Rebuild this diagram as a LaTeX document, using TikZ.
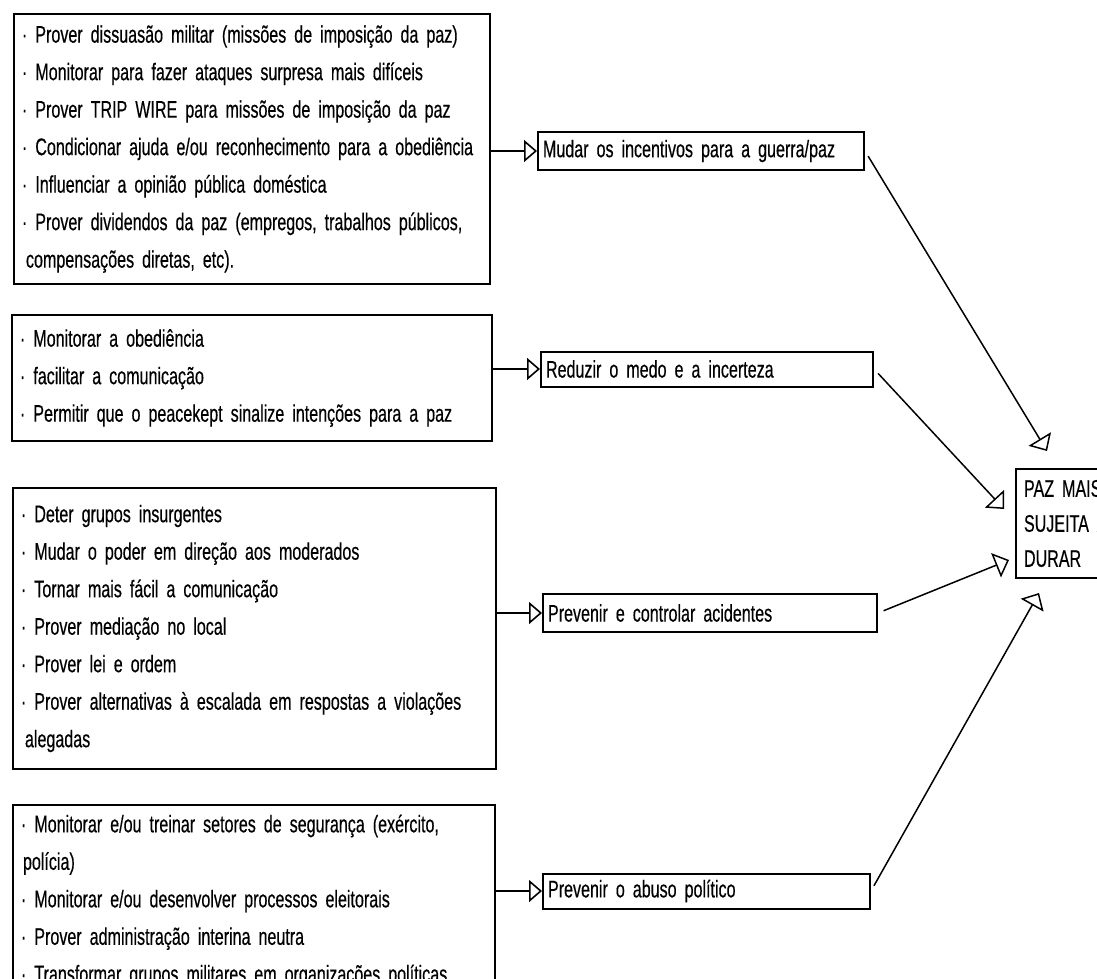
\documentclass[tikz,border=0pt]{standalone}
\usepackage{fontspec}
\setmainfont[FakeStretch=0.67, WordSpace=0.55, FakeBold=0.4]{Liberation Sans}
\usetikzlibrary{arrows.meta}
\hyphenpenalty=10000
\begin{document}
\begin{tikzpicture}[x = 0.5pt, y = -0.5pt,
		listbox/.style = {draw, line width = 1pt, align = left, inner xsep = 4pt, inner ysep = 0pt, anchor = north west, font = \fontsize{12}{18.75}\selectfont},
		goalbox/.style = {draw, line width = 1pt, align = left, inner xsep = 2.5pt, inner ysep = 0pt, anchor = west, font = \fontsize{12}{14}\selectfont},
		arr/.style = {line width = 0.8pt, -{Triangle[open, length = 6.5pt, width = 11pt]}},
		diag/.style = {line width = 0.75pt, shorten < = 3pt, -{Triangle[open, length = 7pt, width = 13pt]}}]
			\useasboundingbox (0,0) rectangle (1097,979);
			\clip (0,0) rectangle (1097,979);
			\node[listbox, text width = 230pt, minimum height = 135pt] (incentlist) at (13,13) {%
				· Prover dissuasão militar (missões de imposição da paz)\\
				· Monitorar para fazer ataques surpresa mais difíceis\\
				· Prover TRIP WIRE para missões de imposição da paz\\
				· Condicionar ajuda e/ou reconhecimento para a obediência\\
				· Influenciar a opinião pública doméstica\\
				· Prover dividendos da paz (empregos, trabalhos públicos,\\
				\hspace{2pt}compensações diretas, etc).};
			\node[listbox, text width = 232pt, minimum height = 63pt] (medolist) at (11,314) {%
				· Monitorar a obediência\\
				· facilitar a comunicação\\
				· Permitir que o peacekept sinalize intenções para a paz};
			\node[listbox, text width = 233.5pt, minimum height = 140.5pt] (acidlist) at (12,487) {%
				· Deter grupos insurgentes\\
				· Mudar o poder em direção aos moderados\\
				· Tornar mais fácil a comunicação\\
				· Prover mediação no local\\
				· Prover lei e ordem\\
				· Prover alternativas à escalada em respostas a violações\\
				\hspace{2pt}alegadas};
			\node[listbox, text width = 233pt, minimum height = 96pt] (abusolist) at (12,804) {%
				· Monitorar e/ou treinar setores de segurança (exército,\\
				\hspace{1pt}polícia)\\
				· Monitorar e/ou desenvolver processos eleitorais\\
				· Prover administração interina neutra\\
				· Transformar grupos militares em organizações políticas};
			\node[goalbox, text width = 158pt, minimum height = 18.5pt] (mudar) at (537,151) {Mudar os incentivos para a guerra/paz};
			\node[goalbox, text width = 161pt, minimum height = 17.5pt] (reduzir) at (540,369) {Reduzir o medo e a incerteza};
			\node[goalbox, text width = 162pt, minimum height = 19pt] (prevenir) at (542,613) {Prevenir e controlar acidentes};
			\node[goalbox, text width = 158.5pt, minimum height = 17.5pt] (abuso) at (542,891) {Prevenir o abuso político};
			\node[listbox, font = \fontsize{12}{17.5}\selectfont, text width = 52pt, minimum height = 54.5pt] (paz) at (1015,468) {PAZ MAIS\\SUJEITA A\\DURAR};
			\coordinate (pazin1) at (1047,451);
			\coordinate (pazin2) at (1004,509);
			\coordinate (pazin3) at (1009,560);
			\coordinate (pazin4) at (1039,593);
			\draw[arr] (incentlist.east |- mudar.west) -- (mudar.west);
			\draw[arr] (medolist.east |- reduzir.west) -- (reduzir.west);
			\draw[arr] (acidlist.east |- prevenir.west) -- (prevenir.west);
			\draw[arr] (abusolist.east |- abuso.west) -- (abuso.west);
			\draw[diag] (mudar.east) -- (pazin1);
			\draw[diag] (reduzir.east) -- (pazin2);
			\draw[diag] (prevenir.east) -- (pazin3);
			\draw[diag] (abuso.east) -- (pazin4);
		\end{tikzpicture}
\end{document}
